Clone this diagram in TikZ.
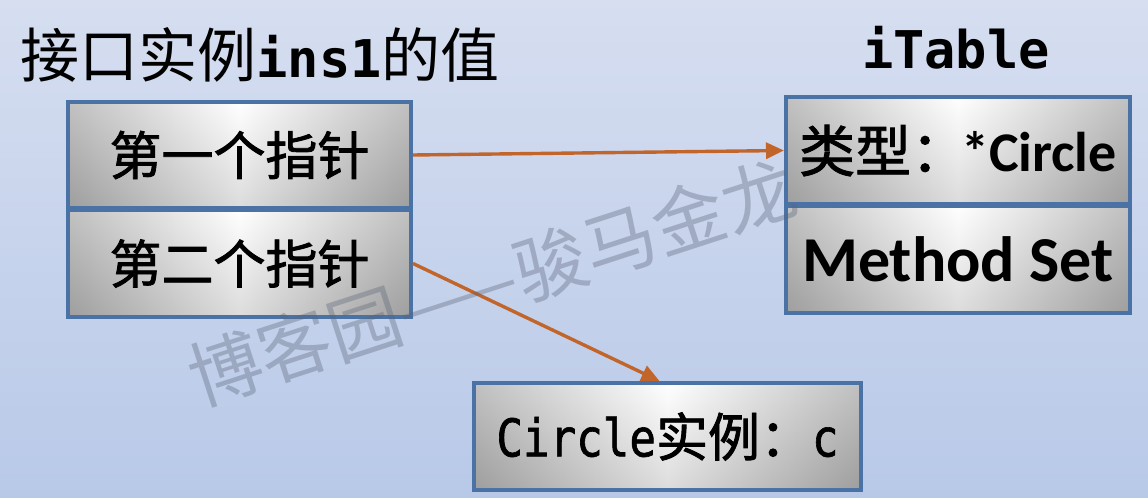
\documentclass[tikz,border=0pt]{standalone}
\usepackage{fontspec}
\newfontfamily\cjk{Noto Sans CJK SC}
\newfontfamily\cjkm{Noto Sans CJK SC}[FakeBold=1.6]
\newfontfamily\mono{DejaVu Sans Mono}
\newfontfamily\monon{DejaVu Sans Mono}[FakeStretch=0.85,FakeBold=1.2]
\newfontfamily\carlito{Carlito}
\usetikzlibrary{arrows.meta}
\definecolor{bgtop}{RGB}{214,222,240}
\definecolor{bgbot}{RGB}{184,201,232}
\definecolor{boxline}{RGB}{74,114,165}
\definecolor{boxedge}{RGB}{166,166,166}
\definecolor{arrowc}{RGB}{193,101,43}
\definecolor{wmark}{RGB}{90,100,120}
\begin{document}
\begin{tikzpicture}[x=0.5pt,y=-0.5pt,
  cell/.style={draw=boxline, line width=2pt, left color=boxedge, right color=boxedge, middle color=white,
    inner sep=0pt, anchor=north west, text=black,
    path picture={\shade[top color=white, bottom color=black!45, opacity=0.3]
      (path picture bounding box.south west) rectangle (path picture bounding box.north east);}},
  ptr/.style={draw=arrowc, line width=1.7pt, -{Triangle[length=9pt,width=8pt]}, fill=arrowc},
  cjkb/.style={font=\cjkm\fontsize{26}{30}\selectfont}]
\useasboundingbox (0,0) rectangle (1148,498);
\shade[top color=bgtop, bottom color=bgbot] (0,0) rectangle (1148,498);

\node[anchor=west, inner sep=0pt] (title) at (20,55)
  {\fontsize{29.5}{34}\selectfont{\cjk 接口实例}{\mono\bfseries\fontsize{26}{30}\selectfont ins1}{\cjk 的值}};
\node[inner sep=0pt, font=\mono\bfseries\fontsize{26}{30}\selectfont] (itable) at (956,48) {iTable};

\node[cell, cjkb, minimum width=171.5pt, minimum height=53pt] (a1) at (66,100) {第一个指针};
\node[cell, cjkb, minimum width=171.5pt, minimum height=53.5pt] (a2) at (66,208) {第二个指针};

\node[cell, minimum width=172pt, minimum height=53.5pt] (b1) at (784,95)
  {\fontsize{28}{32}\selectfont{\cjkm 类型：}\hspace{-3pt}{\carlito\bfseries *Circle}};
\node[cell, minimum width=172pt, minimum height=53.5pt, font=\carlito\bfseries\fontsize{32}{36}\selectfont] (b2) at (784,204) {Method Set};

\node[cell, minimum width=193.5pt, minimum height=53.5pt] (c) at (472,381)
  {\fontsize{26}{30}\selectfont{\monon Circle}{\cjkm 实例：}{\monon c}};

\draw[ptr] (a1.east) -- (b1.west);
\draw[ptr] (a2.east) -- ([xshift=-4pt]c.north);

\node[rotate=18, text=wmark, text opacity=0.36, inner sep=0pt, font=\cjk\fontsize{36.5}{42}\selectfont] (wm) at (492,282) {博客园——骏马金龙};
\end{tikzpicture}
\end{document}
